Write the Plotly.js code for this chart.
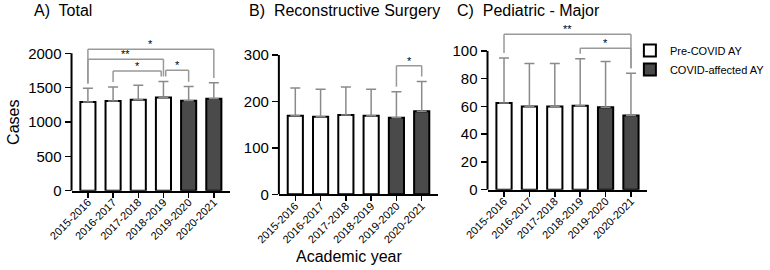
<!DOCTYPE html>
<html><head><meta charset="utf-8">
<script src="https://cdn.plot.ly/plotly-3.0.1.min.js"></script>
<style>html,body{margin:0;padding:0;background:#fff}#chart{width:770px;height:270px}</style>
</head><body><div id="chart"></div>
<script>
// ---------- data ----------
const categories = ['2015-2016','2016-2017','2017-2018','2018-2019','2019-2020','2020-2021'];
const period = ['pre','pre','pre','pre','covid','covid'];
const periodNames = {pre: 'Pre-COVID AY', covid: 'COVID-affected AY'};

const totalMean = [1290, 1305, 1325, 1355, 1310, 1340];
const totalSD   = [200, 205, 210, 235, 205, 230];
const reconMean = [169, 167, 171, 169, 165, 179];
const reconSD   = [60, 59, 60, 57, 56, 64];
const pedMean   = [62.5, 60, 60, 60.5, 59.5, 53.5];
const pedSD     = [32.5, 31, 31, 34, 33, 30.5];

const totalTicks = [0, 500, 1000, 1500, 2000];
const reconTicks = [0, 100, 200, 300];
const pedTicks   = [0, 20, 40, 60, 80, 100];

// significance brackets: [from bar, to bar, label, level]
const totalBrackets = [[0,5,'*',2058],[0,3,'**',1913],[1,3,'*',1742],[3,4,'*',1752]];
const reconBrackets = [[4,5,'*',277]];
const pedBrackets   = [[0,5,'**',112],[3,5,'*',102]];

const panelTitles = ['A)  Total', 'B)  Reconstructive Surgery', 'C)  Pediatric - Major'];

// ---------- layout geometry ----------
const W = 770, H = 270;
const FONT = 'Liberation Sans, Arial, Helvetica, sans-serif';
const geo = [
  {x0: 72,    x1: 231.7, yb: 190.7, ytopTickPx: 53.3,  titleX: 32},
  {x0: 280.7, x1: 441,   yb: 194.3, ytopTickPx: 55.0,  titleX: 249},
  {x0: 490.7, x1: 651.7, yb: 189.7, ytopTickPx: 51.0,  titleX: 458}
];
const plotTopPx = 25;

const panels = [
  {mean: totalMean, sd: totalSD, ticks: totalTicks, brackets: totalBrackets},
  {mean: reconMean, sd: reconSD, ticks: reconTicks, brackets: reconBrackets},
  {mean: pedMean,   sd: pedSD,   ticks: pedTicks,   brackets: pedBrackets}
];

const traces = [];
const shapes = [];
const annotations = [];
const layout = {
  width: W, height: H, autosize: false,
  margin: {l: 0, r: 0, t: 0, b: 0},
  paper_bgcolor: '#fff', plot_bgcolor: 'rgba(0,0,0,0)',
  font: {family: FONT, color: '#000'},
  barmode: 'overlay',
  showlegend: true,
  legend: {x: 634/W, y: 1 - 36/H, xanchor: 'left', yanchor: 'top',
           font: {size: 11, family: FONT, color: '#000'}, bgcolor: 'rgba(0,0,0,0)',
           tracegroupgap: 0, itemclick: false, itemdoubleclick: false},
  hovermode: false
};

panels.forEach((p, i) => {
  const g = geo[i];
  const sfx = i === 0 ? '' : String(i + 1);
  const xa = 'x' + sfx, ya = 'y' + sfx;
  const topTick = p.ticks[p.ticks.length - 1];
  const ymax = (g.yb - plotTopPx) / (g.yb - g.ytopTickPx) * topTick;

  ['pre', 'covid'].forEach(grp => {
    const idx = period.map((v, k) => v === grp ? k : -1).filter(k => k >= 0);
    traces.push({
      type: 'bar', xaxis: xa, yaxis: ya,
      x: idx.map(k => categories[k]),
      y: idx.map(k => p.mean[k]),
      width: 0.6,
      name: periodNames[grp], legendgroup: grp, showlegend: i === 0,
      marker: {color: grp === 'pre' ? '#ffffff' : '#4a4a4a', line: {color: '#000', width: 2}},
      error_y: {type: 'data', symmetric: false, array: idx.map(k => p.sd[k]),
                arrayminus: idx.map(() => 0), color: '#8a8a8a', thickness: 1.5, width: 5}
    });
  });

  layout['xaxis' + sfx] = {
    domain: [g.x0 / W, g.x1 / W], anchor: ya,
    type: 'category', categoryorder: 'array', categoryarray: categories,
    range: [-0.65, categories.length - 0.35],
    showline: true, linecolor: '#000', linewidth: 2,
    ticks: 'outside', ticklen: 5, tickwidth: 1.5, tickcolor: '#000',
    tickangle: -45, ticklabelstandoff: -6,
    tickfont: {size: 11, family: FONT, color: '#000'},
    showgrid: false, zeroline: false, fixedrange: true
  };
  layout['yaxis' + sfx] = {
    domain: [1 - g.yb / H, 1 - plotTopPx / H], anchor: xa,
    range: [0, ymax], tickvals: p.ticks, ticktext: p.ticks.map(String),
    showline: false, ticks: 'outside', ticklen: 6, tickwidth: 1.5, tickcolor: '#000',
    tickfont: {size: 15, family: FONT, color: '#000'},
    showgrid: false, zeroline: false, fixedrange: true
  };
  // visible y axis line from 0 to the top tick
  shapes.push({type: 'line', xref: xa + ' domain', yref: ya, x0: 0, x1: 0, y0: 0, y1: topTick,
               line: {color: '#000', width: 2}});

  // brackets
  const legGap = 0.036 * topTick;
  p.brackets.forEach((b, bi) => {
    let [from, to, label, level] = b;
    let xl = from, xr = to;
    p.brackets.forEach((o, oi) => {
      if (oi === bi || Math.abs(o[3] - level) > 0.03 * topTick) return;
      if (o[0] === to) xr -= 0.09;
      if (o[1] === from) xl += 0.09;
    });
    const legL = p.mean[from] + p.sd[from] + legGap;
    const legR = p.mean[to] + p.sd[to] + legGap;
    const ln = {color: '#999', width: 1.5};
    shapes.push({type: 'line', xref: xa, yref: ya, x0: xl, x1: xr, y0: level, y1: level, line: ln});
    shapes.push({type: 'line', xref: xa, yref: ya, x0: xl, x1: xl, y0: level, y1: legL, line: ln});
    shapes.push({type: 'line', xref: xa, yref: ya, x0: xr, x1: xr, y0: level, y1: legR, line: ln});
    annotations.push({xref: xa, yref: ya, x: (xl + xr) / 2, y: level, text: label,
                      showarrow: false, yanchor: 'bottom', xanchor: 'center', yshift: -3,
                      font: {size: 11, family: FONT, color: '#000'}});
  });

  annotations.push({xref: 'paper', yref: 'paper', x: g.titleX / W, y: 1 - 10.5 / H,
                    xanchor: 'left', yanchor: 'middle', text: panelTitles[i], showarrow: false,
                    font: {size: 16, family: FONT, color: '#000'}});
});

annotations.push({xref: 'paper', yref: 'paper', x: 13.5 / W, y: 1 - 122.5 / H, textangle: -90,
                  xanchor: 'center', yanchor: 'middle', text: 'Cases', showarrow: false,
                  font: {size: 16, family: FONT, color: '#000'}});
annotations.push({xref: 'paper', yref: 'paper', x: 351.7 / W, y: 1 - 256 / H,
                  xanchor: 'center', yanchor: 'middle', text: 'Academic year', showarrow: false,
                  font: {size: 16, family: FONT, color: '#000'}});

layout.shapes = shapes;
layout.annotations = annotations;

Plotly.newPlot('chart', traces, layout, {displayModeBar: false, staticPlot: true});
</script>
</body></html>
